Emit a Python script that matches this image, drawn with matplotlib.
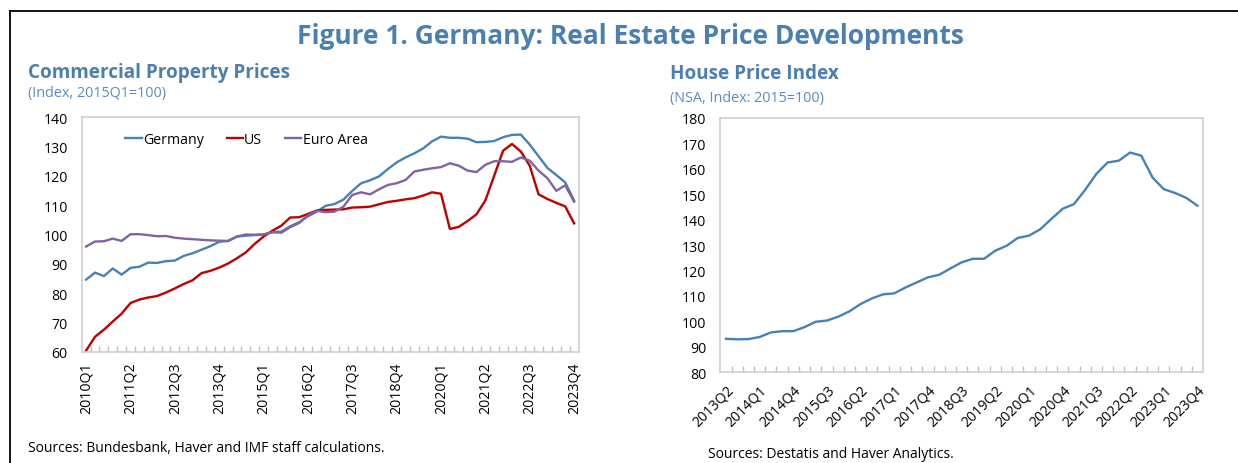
import matplotlib
matplotlib.use("Agg")
import matplotlib.pyplot as plt
from matplotlib.lines import Line2D

plt.rcParams['font.family'] = ['Open Sans', 'DejaVu Sans']

# ---------------- Data ----------------
# Commercial property prices, 2010Q1..2023Q4 (56 quarters)
cpp_quarters = [f"{y}Q{q}" for y in range(2010, 2024) for q in range(1, 5)]
germany = [84.6, 87.0, 85.8, 88.4, 86.3, 88.6, 89.0, 90.4, 90.3, 90.9,
           91.1, 92.7, 93.6, 94.8, 96.0, 97.5, 97.8, 99.3, 99.6, 99.8,
           100.0, 100.8, 101.0, 102.8, 104.2, 106.2, 107.8, 109.8, 110.4, 111.9,
           114.9, 117.5, 118.5, 119.8, 122.3, 124.6, 126.3, 127.7, 129.4, 131.8,
           133.4, 133.0, 133.0, 132.7, 131.5, 131.6, 131.9, 133.2, 134.0, 134.1,
           130.7, 126.7, 122.7, 120.3, 117.8, 111.6]
us = [60.4, 65.1, 67.5, 70.3, 73.0, 76.6, 77.8, 78.5, 79.0, 80.2,
      81.6, 83.1, 84.4, 86.8, 87.6, 88.7, 90.1, 91.9, 93.9, 96.8,
      99.3, 101.3, 103.0, 105.8, 105.9, 107.0, 108.2, 108.4, 108.5, 108.6,
      109.2, 109.3, 109.5, 110.3, 111.1, 111.5, 112.0, 112.4, 113.3, 114.4,
      113.9, 101.9, 102.6, 104.6, 106.9, 111.6, 120.1, 128.6, 130.9, 128.3,
      123.5, 113.7, 112.1, 110.8, 109.6, 103.8]
euro_area = [95.9, 97.6, 97.7, 98.6, 97.8, 100.1, 100.1, 99.8, 99.4, 99.5,
             98.9, 98.6, 98.4, 98.2, 98.0, 97.9, 97.8, 99.3, 100.0, 99.9,
             100.0, 100.8, 100.6, 102.5, 103.9, 106.5, 108.1, 107.6, 107.8, 109.5,
             113.5, 114.4, 113.7, 115.4, 116.9, 117.5, 118.6, 121.5, 122.1, 122.6,
             123.0, 124.3, 123.5, 121.8, 121.3, 123.8, 125.0, 125.0, 124.8, 126.3,
             125.2, 121.8, 119.2, 114.9, 116.8, 111.2]

# House price index, 2013Q2..2023Q4 (43 quarters)
hpi_quarters = [f"{y}Q{q}" for y in range(2013, 2024) for q in range(1, 5)][1:]
house_price = [93.1, 92.9, 93.0, 93.8, 95.6, 96.1, 96.1, 97.7, 99.8, 100.3,
               101.8, 103.9, 106.8, 109.0, 110.6, 111.0, 113.3, 115.3, 117.3, 118.3,
               120.8, 123.2, 124.6, 124.6, 127.8, 129.7, 132.8, 133.7, 136.2, 140.3,
               144.3, 146.1, 151.7, 158.0, 162.5, 163.2, 166.4, 165.2, 156.6, 152.0,
               150.5, 148.6, 145.5]

series_names = ["Germany", "US", "Euro Area"]

# ---------------- Style ----------------
BLUE = "#4a7fb0"
SUB = "#5b8cc0"
C_GER = "#4682b4"
C_US = "#c00000"
C_EA = "#8064a2"
FRAME = "#d0d0d0"
TICKC = "#bfbfbf"

W, H = 1238, 464
fig = plt.figure(figsize=(W / 100, H / 100), dpi=100)

def fx(px):
    return px / W

def fy(py):
    return 1 - py / H

# Border (top and left)
fig.add_artist(Line2D([fx(10), fx(10)], [fy(12), 0], color="black", lw=1.3,
                      transform=fig.transFigure))
fig.add_artist(Line2D([fx(10), 1], [fy(12), fy(12)], color="black", lw=1.3,
                      transform=fig.transFigure))

fig.text(fx(630), fy(44), "Figure 1. Germany: Real Estate Price Developments",
         ha="center", va="baseline", fontsize=19.0, fontweight="bold", color=BLUE)

fig.text(fx(28), fy(78), "Commercial Property Prices", ha="left", va="baseline",
         fontsize=13.6, fontweight="bold", color=BLUE)
fig.text(fx(28), fy(97), "(Index, 2015Q1=100)", ha="left", va="baseline",
         fontsize=10.4, color=SUB)
fig.text(fx(670), fy(79), "House Price Index", ha="left", va="baseline",
         fontsize=13.6, fontweight="bold", color=BLUE)
fig.text(fx(670), fy(102), "(NSA, Index: 2015=100)", ha="left", va="baseline",
         fontsize=10.4, color=SUB)

fig.text(fx(28), fy(452), "Sources: Bundesbank, Haver and IMF staff calculations.",
         ha="left", va="baseline", fontsize=10.0, color="black")
fig.text(fx(708), fy(458), "Sources: Destatis and Haver Analytics.",
         ha="left", va="baseline", fontsize=10.0, color="black")


def style_axes(ax, n):
    for s in ax.spines.values():
        s.set_color(FRAME)
        s.set_linewidth(1.2)
    ax.set_xlim(-0.5, n - 0.5)
    ax.set_xticks([i - 0.5 for i in range(1, n)], minor=True)
    ax.tick_params(axis="x", which="minor", direction="in", length=4,
                   color=TICKC, width=1)
    ax.tick_params(axis="x", which="major", length=0, labelsize=10.2, pad=7)
    ax.tick_params(axis="y", length=0, labelsize=10.2, pad=10)


# ---------------- Left chart ----------------
axL = fig.add_axes([fx(81.7), fy(352.7), fx(578.5 - 81.7), (352.7 - 118.3) / H])
xL = list(range(len(cpp_quarters)))
for vals, name, col in zip([germany, us, euro_area], series_names, [C_GER, C_US, C_EA]):
    axL.plot(xL, vals, color=col, lw=1.7, label=name, solid_joinstyle="round")
style_axes(axL, len(cpp_quarters))
axL.set_ylim(60, 140)
axL.set_yticks(range(60, 141, 10))
axL.set_xticks(xL[::5])
axL.set_xticklabels(cpp_quarters[::5], rotation=90)
axL.legend(loc="upper left", bbox_to_anchor=(0.062, 0.99), ncol=3, frameon=False,
           fontsize=10.2, handlelength=1.15, handletextpad=0.1, columnspacing=1.6)

# ---------------- Right chart ----------------
axR = fig.add_axes([fx(720.3), fy(373.1), fx(1203 - 720.3), (373.1 - 119) / H])
xR = list(range(len(hpi_quarters)))
axR.plot(xR, house_price, color=C_GER, lw=1.7, solid_joinstyle="round")
style_axes(axR, len(hpi_quarters))
axR.set_ylim(80, 180)
axR.set_yticks(range(80, 181, 10))
axR.set_xticks(xR[::3])
axR.set_xticklabels(hpi_quarters[::3], rotation=45, ha="right",
                    rotation_mode="anchor")

fig.savefig("out.png", dpi=100)
